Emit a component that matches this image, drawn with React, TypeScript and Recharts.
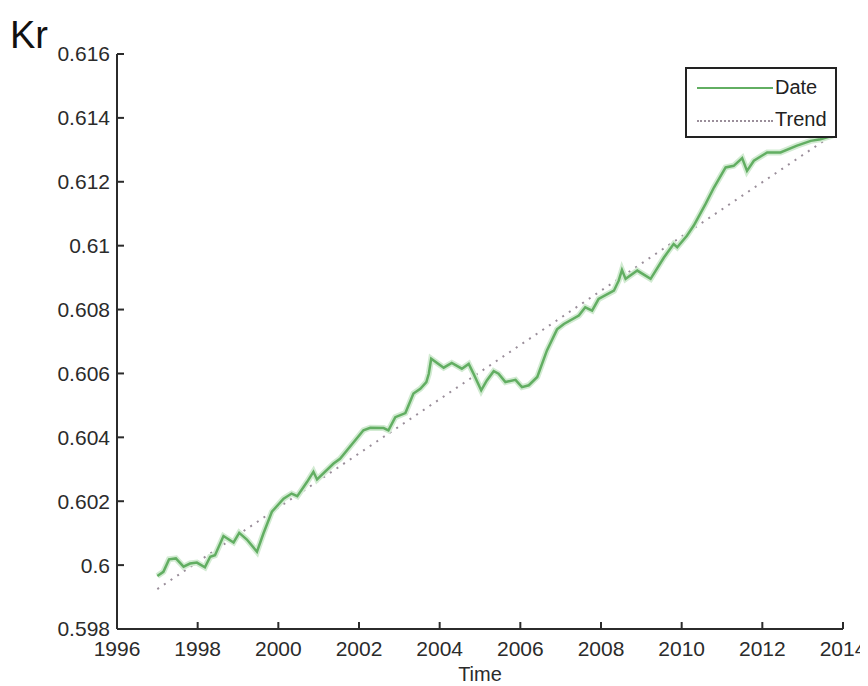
import React from 'react';
import { LineChart, Line, XAxis, YAxis } from 'recharts';

const dateYears = [
  1997.0, 1997.15, 1997.29, 1997.46, 1997.65, 1997.81, 1997.98, 1998.18, 1998.31, 1998.43,
  1998.64, 1998.89, 1999.03, 1999.22, 1999.47, 1999.63, 1999.84, 2000.13, 2000.33, 2000.47,
  2000.71, 2000.87, 2000.96, 2001.37, 2001.53, 2002.11, 2002.28, 2002.61, 2002.73, 2002.9,
  2003.15, 2003.35, 2003.52, 2003.67, 2003.73, 2003.79, 2004.1, 2004.3, 2004.55, 2004.72,
  2004.84, 2005.03, 2005.17, 2005.34, 2005.46, 2005.63, 2005.88, 2006.04, 2006.21, 2006.42,
  2006.66, 2006.91, 2007.08, 2007.45, 2007.61, 2007.78, 2007.94, 2008.32, 2008.44, 2008.52,
  2008.61, 2008.9, 2009.23, 2009.56, 2009.8, 2009.89, 2010.13, 2010.3, 2010.59, 2010.8,
  2011.09, 2011.29, 2011.5, 2011.62, 2011.79, 2012.12, 2012.45, 2012.86, 2013.2, 2013.44,
  2013.75,
];

const dateValues = [
  0.59966, 0.59979, 0.60018, 0.60021, 0.59995, 0.60005, 0.60008, 0.59993, 0.60026, 0.60031,
  0.60091, 0.60071, 0.60101, 0.6008, 0.60042, 0.60099, 0.60167, 0.60208, 0.60224, 0.60216,
  0.6026, 0.60292, 0.60268, 0.60318, 0.60333, 0.60422, 0.6043, 0.60429, 0.60422, 0.60463,
  0.60476, 0.60537, 0.60552, 0.60573, 0.60599, 0.60646, 0.60618, 0.60633, 0.60615, 0.6063,
  0.60599, 0.60547, 0.60578, 0.60607, 0.60599, 0.60573, 0.6058, 0.60557, 0.60563, 0.60589,
  0.60672, 0.60738, 0.60755, 0.60781, 0.60807, 0.60797, 0.60833, 0.60859, 0.60891, 0.60924,
  0.60896, 0.60922, 0.60896, 0.60963, 0.61005, 0.60995, 0.61031, 0.61063, 0.6113, 0.61182,
  0.61245, 0.6125, 0.61274, 0.61234, 0.61266, 0.61292, 0.61292, 0.61313, 0.61328, 0.61333,
  0.61345,
];

const trendYears = [1997.0, 2013.9];
const trendValues = [0.59925, 0.6136];

const xTicks = [1996, 1998, 2000, 2002, 2004, 2006, 2008, 2010, 2012, 2014];
const yTicks = [0.598, 0.6, 0.602, 0.604, 0.606, 0.608, 0.61, 0.612, 0.614, 0.616];

const dateData = dateYears.map((t, i) => ({ t, v: dateValues[i] }));
const trendData = trendYears.map((t, i) => ({ t, v: trendValues[i] }));

const font = "'Liberation Sans', Arial, sans-serif";
const axisColor = '#2b2b2b';
const tickStyle = { fill: '#2b2b2b', fontSize: 21, fontFamily: font };
const fmtY = (v: number) => String(parseFloat(v.toFixed(3)));
const blank = () => '';

export default function App() {
  return (
    <div style={{ position: 'relative', width: 860, height: 678, fontFamily: font }}>
      <div style={{ position: 'absolute', left: 2, top: 6, fontSize: 38, color: '#111' }}>Kr</div>
      <LineChart
        width={860}
        height={678}
        margin={{ top: 46, right: 25, left: 0, bottom: 0 }}
      >
        <XAxis
          dataKey="t"
          type="number"
          domain={[1996, 2014]}
          ticks={xTicks}
          allowDataOverflow
          height={57}
          stroke={axisColor}
          strokeWidth={2}
          tickSize={-7}
          tickMargin={19}
          tick={tickStyle}
          label={{ value: 'Time', position: 'insideBottom', offset: 5, fill: '#2b2b2b', fontSize: 20, fontFamily: font }}
        />
        <XAxis
          xAxisId="top"
          orientation="top"
          dataKey="t"
          type="number"
          domain={[1996, 2014]}
          ticks={xTicks}
          allowDataOverflow
          height={0}
          stroke={axisColor}
          strokeWidth={2}
          tickSize={-7}
          tickFormatter={blank}
        />
        <YAxis
          type="number"
          domain={[0.598, 0.616]}
          ticks={yTicks}
          allowDataOverflow
          width={109}
          stroke={axisColor}
          strokeWidth={2}
          tickSize={-7}
          tickMargin={14}
          tick={tickStyle}
          tickFormatter={fmtY}
        />
        <YAxis
          yAxisId="right"
          orientation="right"
          type="number"
          domain={[0.598, 0.616]}
          ticks={yTicks}
          allowDataOverflow
          width={0}
          stroke={axisColor}
          strokeWidth={2}
          tickSize={-7}
          tickFormatter={blank}
        />
        <Line
          data={trendData}
          dataKey="v"
          type="linear"
          stroke="#9a8e9a"
          strokeWidth={2}
          strokeDasharray="2 6"
          dot={false}
          isAnimationActive={false}
        />
        <Line
          data={dateData}
          dataKey="v"
          type="linear"
          stroke="#d2ebd2"
          strokeWidth={6}
          dot={false}
          isAnimationActive={false}
        />
        <Line
          data={dateData}
          dataKey="v"
          type="linear"
          stroke="#62ae62"
          strokeWidth={2.5}
          dot={false}
          isAnimationActive={false}
        />
      </LineChart>
      <div
        style={{
          position: 'absolute',
          left: 677,
          top: 59,
          width: 152,
          height: 71,
          border: '2px solid #222',
          background: '#fff',
          boxSizing: 'border-box',
          fontSize: 20,
          color: '#222',
        }}
      >
        <div style={{ position: 'absolute', left: 10, top: 18, width: 76, borderTop: '2.5px solid #62ae62' }} />
        <div style={{ position: 'absolute', left: 88, top: 7 }}>Date</div>
        <div style={{ position: 'absolute', left: 10, top: 51, width: 76, borderTop: '2px dotted #9a8e9a' }} />
        <div style={{ position: 'absolute', left: 88, top: 39 }}>Trend</div>
      </div>
    </div>
  );
}
